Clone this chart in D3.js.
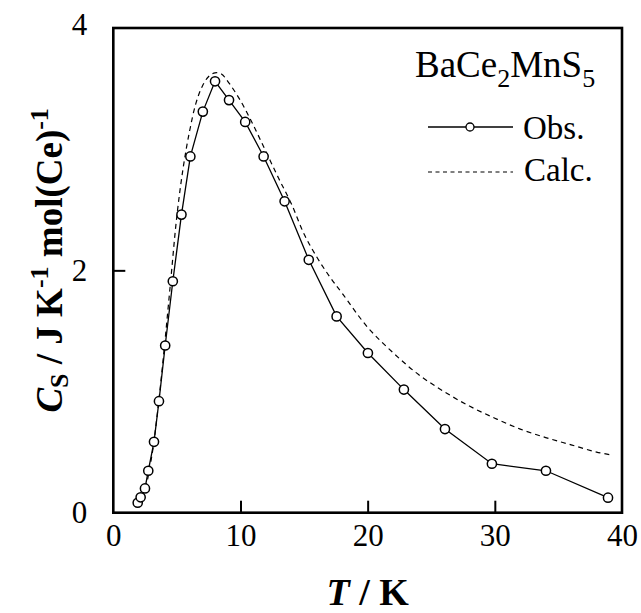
<!DOCTYPE html>
<html>
<head>
<meta charset="utf-8">
<script src="https://cdn.jsdelivr.net/npm/d3@7"></script>
<style>
  html, body { margin: 0; padding: 0; background: #fff; }
  svg { display: block; }
  text { font-family: "Liberation Serif", "Times New Roman", serif; fill: #000; }
</style>
</head>
<body>
<svg id="chart" width="641" height="613"></svg>
<script>
// ---- data ----
const obsT = [1.92, 2.15, 2.49, 2.75, 3.2, 3.59, 4.08, 4.68, 5.36, 6.06, 7.04, 8.0, 9.1, 10.37, 11.82, 13.47, 15.37, 17.56, 20.02, 22.85, 26.08, 29.77, 34.02, 38.9];
const obsC = [0.082, 0.127, 0.20, 0.346, 0.585, 0.92, 1.38, 1.91, 2.46, 2.94, 3.31, 3.56, 3.405, 3.225, 2.94, 2.57, 2.087, 1.62, 1.318, 1.016, 0.69, 0.404, 0.346, 0.124];
const calcT = [1.9, 2.5, 3.0, 3.5, 4.0, 4.5, 5.0, 5.5, 6.0, 6.5, 7.0, 7.5, 8.0, 8.5, 9.0, 10, 11, 12, 13, 14, 15, 16, 17, 18, 20, 22, 24, 26, 28, 30, 32, 34, 36, 38, 39];
const calcC = [0.07, 0.20, 0.45, 0.85, 1.35, 1.90, 2.45, 2.85, 3.15, 3.38, 3.52, 3.60, 3.63, 3.62, 3.56, 3.40, 3.20, 2.98, 2.76, 2.55, 2.30, 2.11, 1.95, 1.81, 1.53, 1.32, 1.14, 1.00, 0.88, 0.78, 0.69, 0.62, 0.56, 0.50, 0.48];
const xTicks = [0, 10, 20, 30, 40];
const yTicks = [0, 2, 4];
const legendTitle = ["BaCe", "2", "MnS", "5"];
const legendLabels = ["Obs.", "Calc."];

// ---- layout ----
const svg = d3.select("#chart");
const L = 113.3, R = 622, T = 28, B = 512.7;
const x = d3.scaleLinear().domain([0, 40]).range([L, R]);
const y = d3.scaleLinear().domain([0, 4]).range([B, T]);

const obs = obsT.map((t, i) => ({t, c: obsC[i]}));
const calc = calcT.map((t, i) => ({t, c: calcC[i]}));

// calc dashed curve
const smooth = d3.line().x(d => x(d.t)).y(d => y(d.c)).curve(d3.curveCatmullRom.alpha(0.5));
svg.append("path").datum(calc)
  .attr("d", smooth).attr("fill", "none").attr("stroke", "#000")
  .attr("stroke-width", 1.2).attr("stroke-dasharray", "5,4");

// obs line
const straight = d3.line().x(d => x(d.t)).y(d => y(d.c));
svg.append("path").datum(obs)
  .attr("d", straight).attr("fill", "none").attr("stroke", "#000").attr("stroke-width", 1.3);

svg.selectAll("circle.obs").data(obs).enter().append("circle")
  .attr("class", "obs")
  .attr("cx", d => x(d.t)).attr("cy", d => y(d.c)).attr("r", 4.6)
  .attr("fill", "#fff").attr("stroke", "#000").attr("stroke-width", 1.5);

// axes (inward ticks)
const xAxis = d3.axisBottom(x).tickValues(xTicks).tickSizeInner(-12).tickSizeOuter(0).tickPadding(27)
  .tickFormat(d3.format("d"));
const gx = svg.append("g").attr("transform", `translate(0,${B})`).call(xAxis);
gx.select(".domain").remove();
gx.selectAll(".tick line").attr("stroke", "#000").attr("stroke-width", 2)
  .attr("display", d => (d === 0 || d === 40) ? "none" : null);
gx.selectAll(".tick text").attr("font-size", 31).attr("font-family", "Liberation Serif").attr("dy", "0.2em");

const yAxis = d3.axisLeft(y).tickValues(yTicks).tickSizeInner(-12).tickSizeOuter(0).tickPadding(26)
  .tickFormat(d3.format("d"));
const gy = svg.append("g").attr("transform", `translate(${L},0)`).call(yAxis);
gy.select(".domain").remove();
gy.selectAll(".tick line").attr("stroke", "#000").attr("stroke-width", 2)
  .attr("display", d => (d === 0 || d === 4) ? "none" : null);
gy.selectAll(".tick text").attr("font-size", 31).attr("font-family", "Liberation Serif")
  .attr("dy", d => d === 4 ? "0.2em" : "0.32em");

// frame
svg.append("rect").attr("x", L).attr("y", T).attr("width", R - L).attr("height", B - T)
  .attr("fill", "none").attr("stroke", "#000").attr("stroke-width", 2.6);

// axis titles
const xt = svg.append("text").attr("x", x(20)).attr("y", 605).attr("text-anchor", "middle")
  .attr("font-size", 38).attr("font-weight", "bold");
xt.append("tspan").attr("font-style", "italic").text("T");
xt.append("tspan").text(" / K");

const yt = svg.append("text").attr("transform", `translate(62,${(T + B) / 2 - 10}) rotate(-90)`)
  .attr("text-anchor", "middle").attr("font-size", 37).attr("font-weight", "bold");
yt.append("tspan").attr("font-style", "italic").text("C");
yt.append("tspan").attr("font-size", 26).attr("dy", 6).text("S");
yt.append("tspan").attr("dy", -6).text(" / J K");
yt.append("tspan").attr("font-size", 26).attr("dy", -14).text("-1");
yt.append("tspan").attr("dy", 14).text(" mol(Ce)");
yt.append("tspan").attr("font-size", 26).attr("dy", -14).text("-1");

// legend
const lt = svg.append("text").attr("x", 415).attr("y", 77).attr("font-size", 37);
lt.append("tspan").text(legendTitle[0]);
lt.append("tspan").attr("font-size", 26).attr("dy", 10).text(legendTitle[1]);
lt.append("tspan").attr("dy", -10).text(legendTitle[2]);
lt.append("tspan").attr("font-size", 26).attr("dy", 10).text(legendTitle[3]);

svg.append("line").attr("x1", 428).attr("x2", 513).attr("y1", 127).attr("y2", 127)
  .attr("stroke", "#000").attr("stroke-width", 1.3);
svg.append("circle").attr("cx", 470).attr("cy", 127).attr("r", 4)
  .attr("fill", "#fff").attr("stroke", "#000").attr("stroke-width", 1.3);
svg.append("text").attr("x", 523).attr("y", 139).attr("font-size", 33).text(legendLabels[0]);

svg.append("line").attr("x1", 428).attr("x2", 513).attr("y1", 172).attr("y2", 172)
  .attr("stroke", "#000").attr("stroke-width", 1.1).attr("stroke-dasharray", "4,3.5");
svg.append("text").attr("x", 524).attr("y", 181).attr("font-size", 33).text(legendLabels[1]);
</script>
</body>
</html>
